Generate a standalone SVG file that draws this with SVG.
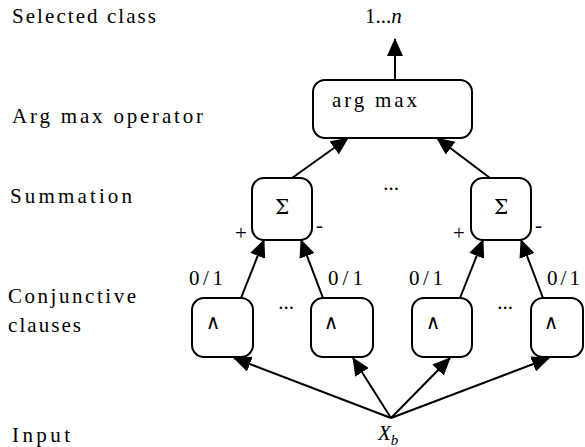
<svg xmlns="http://www.w3.org/2000/svg" width="585" height="447" viewBox="0 0 585 447" font-family="Liberation Serif, DejaVu Serif, serif" font-size="21">
<defs>
<marker id="ah" viewBox="0 0 18 16" markerWidth="18" markerHeight="16" refX="17" refY="8" orient="auto" markerUnits="userSpaceOnUse">
<path d="M0,0 L18,8 L0,16 z" fill="#000"/>
</marker>
</defs>
<style>
.i{font-style:italic}
.box{fill:#fff;stroke:#000;stroke-width:2}
.c line{stroke:#000;stroke-width:2;marker-end:url(#ah)}
</style>
<rect width="585" height="447" fill="#fff"/>
<g id="row-labels">
<text x="12" y="23" textLength="144">Selected class</text>
<text x="12" y="123" textLength="191">Arg max operator</text>
<text x="10" y="203" textLength="122">Summation</text>
<text x="8" y="303" textLength="128">Conjunctive</text>
<text x="8" y="332" textLength="73">clauses</text>
<text x="12" y="442" textLength="58">Input</text>
</g>
<g id="output">
<text x="365" y="23">1...<tspan class="i">n</tspan></text>
</g>
<g id="argmax">
<rect class="box" x="313" y="80" width="159" height="58" rx="12"/>
<text x="332" y="107" textLength="85">arg max</text>
</g>
<g id="sum1">
<rect class="box" x="252" y="178" width="60" height="62" rx="12"/>
<text font-family="DejaVu Serif, serif" font-size="20" x="282" y="214" text-anchor="middle">Σ</text>
<text x="235" y="240">+</text>
<text x="316" y="232">-</text>
</g>
<g id="sum2">
<rect class="box" x="471" y="178" width="60" height="62" rx="12"/>
<text font-family="DejaVu Serif, serif" font-size="20" x="501" y="214" text-anchor="middle">Σ</text>
<text x="453" y="240">+</text>
<text x="535" y="232">-</text>
</g>
<g id="clause1">
<rect class="box" x="192" y="298" width="61" height="59" rx="12"/>
<text font-family="DejaVu Serif, serif" font-size="20" x="213" y="329" text-anchor="middle">∧</text>
</g>
<g id="clause2">
<rect class="box" x="311" y="298" width="62" height="59" rx="12"/>
<text font-family="DejaVu Serif, serif" font-size="20" x="331" y="329" text-anchor="middle">∧</text>
</g>
<g id="clause3">
<rect class="box" x="412" y="298" width="60" height="59" rx="12"/>
<text font-family="DejaVu Serif, serif" font-size="20" x="433" y="329" text-anchor="middle">∧</text>
</g>
<g id="clause4">
<rect class="box" x="531" y="298" width="52" height="59" rx="12"/>
<text font-family="DejaVu Serif, serif" font-size="20" x="551" y="329" text-anchor="middle">∧</text>
</g>
<g id="input">
<text x="378" y="440"><tspan class="i">X</tspan><tspan class="i" font-size="15" dy="5">b</tspan></text>
</g>
<g id="ellipses">
<text x="391" y="190" text-anchor="middle">...</text>
<text x="286" y="309" text-anchor="middle">...</text>
<text x="505" y="309" text-anchor="middle">...</text>
</g>
<g id="edge-labels">
<text x="189" y="285" textLength="34">0/1</text>
<text x="328" y="285" textLength="35">0/1</text>
<text x="409" y="285" textLength="34">0/1</text>
<text x="547" y="285" textLength="33">0/1</text>
</g>
<g id="connectors" class="c">
<line x1="395" y1="80" x2="395" y2="39"/>
<line x1="292" y1="178" x2="348" y2="138"/>
<line x1="490" y1="178" x2="437" y2="138"/>
<line x1="241" y1="298" x2="264" y2="240"/>
<line x1="323" y1="298" x2="301" y2="240"/>
<line x1="460" y1="298" x2="483" y2="240"/>
<line x1="543" y1="298" x2="521" y2="240"/>
<line x1="391" y1="418" x2="234" y2="358"/>
<line x1="391" y1="418" x2="353" y2="358"/>
<line x1="391" y1="418" x2="450" y2="358"/>
<line x1="391" y1="418" x2="549" y2="358"/>
</g>
</svg>
